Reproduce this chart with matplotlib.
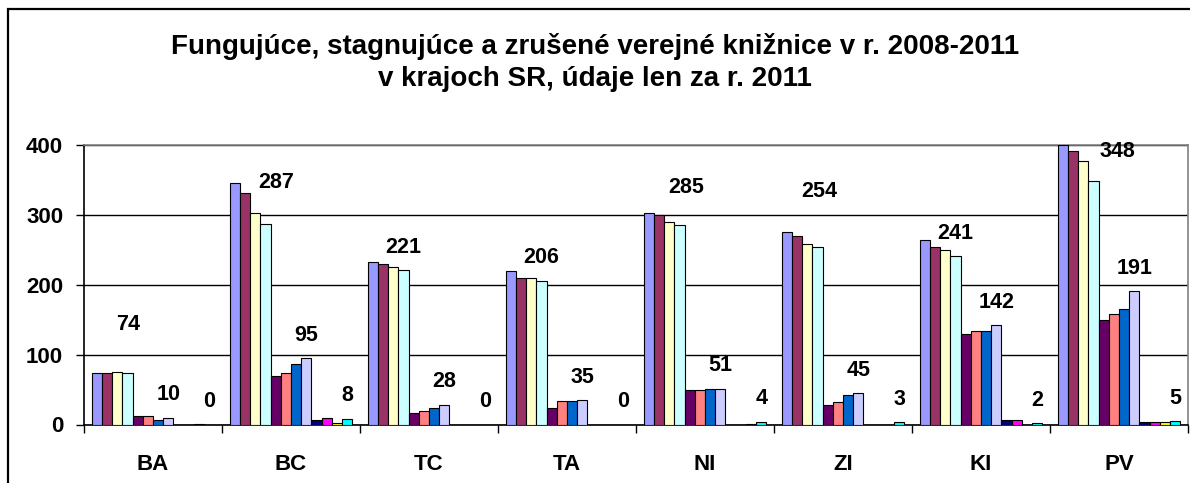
import matplotlib
matplotlib.use("Agg")
import matplotlib.pyplot as plt
from matplotlib.patches import Rectangle
import numpy as np

plt.rcParams['font.family'] = ['Liberation Sans', 'DejaVu Sans']

# ---- data ----
regions = ["BA", "BC", "TC", "TA", "NI", "ZI", "KI", "PV"]
years = ["2008", "2009", "2010", "2011"]

fungujuce = [
    [73, 73, 75, 74],      # BA
    [345, 332, 303, 287],  # BC
    [233, 229, 226, 221],  # TC
    [219, 209, 209, 206],  # TA
    [303, 300, 290, 285],  # NI
    [276, 270, 259, 254],  # ZI
    [264, 254, 250, 241],  # KI
    [400, 392, 377, 348],  # PV
]
stagnujuce = [
    [12, 12, 6, 10],
    [69, 73, 87, 95],
    [16, 20, 23, 28],
    [24, 34, 33, 35],
    [49, 49, 51, 51],
    [28, 32, 42, 45],
    [129, 134, 134, 142],
    [150, 158, 166, 191],
]
zrusene = [
    [0, 0, 1, 0],
    [7, 10, 2, 8],
    [0, 0, 0, 0],
    [0, 0, 0, 0],
    [0, 0, 1, 4],
    [0, 0, 0, 3],
    [6, 6, 0, 2],
    [4, 4, 4, 5],
]

# ---- style ----
fung_colors = ['#9999FF', '#993366', '#FFFFCC', '#CCFFFF']
stag_colors = ['#660066', '#FF8080', '#0066CC', '#CCCCFF']
zrus_colors = ['#000080', '#FF00FF', '#FFFF00', '#00FFFF']

# label offsets in pixels (dx, dy) relative to bar top; manual tweaks as in source
default_dy = 23
label_shift = {
    (0, 0): (1, 48), (1, 0): (11, 41), (4, 0): (7, 38),
    (5, 0): (2, 56), (7, 0): (24, 30),
}

W, H = 1190, 483
fig = plt.figure(figsize=(W / 100, H / 100), dpi=100)

# chart border
fig.patches.append(Rectangle((7.5 / W, -0.1), 1.2, (H - 9.5) / H + 0.1,
                             transform=fig.transFigure, fill=False,
                             edgecolor='black', linewidth=1.6))

left, right, top, bottom = 84, 1188, 145, 424.5
ax = fig.add_axes([left / W, (H - bottom) / H, (right - left) / W, (bottom - top) / H])

series = []
for g, (data, cols) in enumerate([(fungujuce, fung_colors),
                                   (stagnujuce, stag_colors),
                                   (zrusene, zrus_colors)]):
    for y in range(4):
        series.append(([row[y] for row in data], cols[y], g, y))

n = len(series)
bw = 1.0 / (n + 1.5)
x = np.arange(len(regions))
start = -0.5 + 0.75 * bw

for i, (vals, col, g, y) in enumerate(series):
    xs = x + start + (i + 0.5) * bw
    ax.bar(xs, vals, width=bw, color=col, edgecolor='black', linewidth=0.8,
           zorder=3)
    if y == 3:
        for r, v in enumerate(vals):
            dx, dy = label_shift.get((r, g), (0, default_dy))
            ax.annotate(str(v), xy=(xs[r], v), xytext=(dx * 0.72, dy * 0.72),
                        textcoords='offset points', ha='center', va='center',
                        fontsize=15.5, fontweight='bold', zorder=5,
                        annotation_clip=False)

ax.set_xlim(-0.5, len(regions) - 0.5)
ax.set_ylim(0, 400)
ax.set_yticks([0, 100, 200, 300, 400])
ax.yaxis.grid(True, color='black', linewidth=1.0, zorder=0)
ax.set_axisbelow(True)

ax.set_xticks(x)
ax.set_xticklabels(regions, fontsize=16, fontweight='bold')
ax.set_xticks(np.arange(len(regions) + 1) - 0.5, minor=True)
ax.tick_params(axis='x', which='major', length=0, pad=21)
ax.tick_params(axis='x', which='minor', length=6, width=1, color='black')
ax.tick_params(axis='y', length=6, width=1, pad=9, labelsize=16)
for lab in ax.get_yticklabels():
    lab.set_fontweight('bold')

for s in ['left', 'bottom']:
    ax.spines[s].set_color('black')
    ax.spines[s].set_linewidth(1.2)
for s in ['top', 'right']:
    ax.spines[s].set_color('#808080')
    ax.spines[s].set_linewidth(1.2)

fig.text(595 / W, 1 - 47 / H, "Fungujúce, stagnujúce a zrušené verejné knižnice v r. 2008-2011",
         ha='center', va='center', fontsize=20, fontweight='bold')
fig.text(595 / W, 1 - 79 / H, "v krajoch SR, údaje len za r. 2011",
         ha='center', va='center', fontsize=20, fontweight='bold')

fig.savefig("out.png", dpi=100)
